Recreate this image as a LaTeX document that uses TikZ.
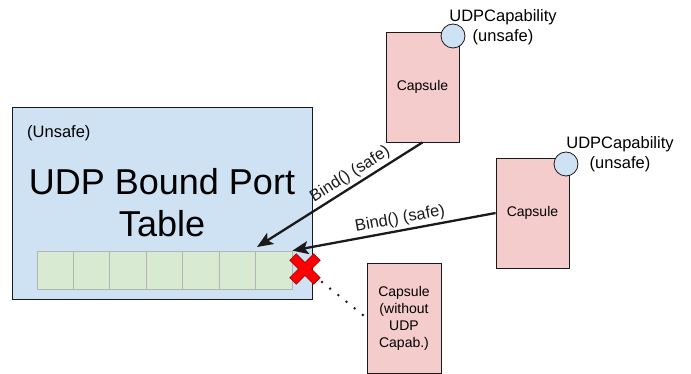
\documentclass[tikz,border=0pt]{standalone}
\usepackage{fontspec}
\setmainfont{Liberation Sans}
\usetikzlibrary{arrows.meta,positioning}
\definecolor{Ink}{HTML}{1A1A1A}
\definecolor{TableBlue}{HTML}{CFE2F3}
\definecolor{SlotGreen}{HTML}{D9EAD3}
\definecolor{SlotEdge}{HTML}{B4B4B4}
\definecolor{CapsulePink}{HTML}{F4CCCC}
\definecolor{NoRed}{HTML}{FF0000}
\definecolor{NoRedEdge}{HTML}{8A1010}

\begin{document}
\begin{tikzpicture}[x=1pt,y=-1pt,>={Stealth[length=16pt,width=13pt,inset=3.5pt]},
  capsule/.style={draw=Ink,fill=CapsulePink,line width=0.8pt,minimum width=73pt,minimum height=110pt,inner sep=0pt,align=center,font=\fontsize{14}{17}\selectfont},
  capab/.style={circle,draw=Ink,fill=TableBlue,line width=0.8pt,minimum size=24pt,inner sep=0pt},
  capabtext/.style={align=center,inner sep=0pt,font=\fontsize{16.5}{19.5}\selectfont},
  slot/.style={draw=SlotEdge,fill=SlotGreen,line width=0.8pt,minimum width=36.43pt,minimum height=38pt,inner sep=0pt},
  bind/.style={->,Ink,line width=2.3pt},
  bindtext/.style={font=\fontsize{16.5}{19.5}\selectfont,inner sep=2.5pt}]
\useasboundingbox (0,0) rectangle (691,374);
% port table
\node[draw=Ink,fill=TableBlue,line width=0.8pt,minimum width=300pt,minimum height=192pt,inner sep=0pt] (table) at (162,203) {};
\node[anchor=west,inner sep=0pt,font=\fontsize{16.5}{19.5}\selectfont] (unsafe) at (27,133) {(Unsafe)};
\node[align=center,inner sep=0pt,font=\fontsize{36}{42}\selectfont] (title) at (162,203) {UDP Bound Port\\Table};
\foreach \i in {0,...,6}
  \node[slot] (slot\i) at ({55.2+36.43*\i},270) {};
% capsules
\node[capsule] (capA) at (422.5,87) {Capsule};
\node[capsule] (capB) at (532.5,213) {Capsule};
\node[capsule,minimum width=74pt] (capC) at (404,318) {Capsule\\(without\\UDP\\Capab.)};
\node[capab] (keyA) at (453,36) {};
\node[capab] (keyB) at (566,164) {};
\node[capabtext] (keyAtext) at (503,27) {UDPCapability\\(unsafe)};
\node[capabtext] (keyBtext) at (620,154) {UDPCapability\\(unsafe)};
% bind calls
\coordinate (tipA) at (257,247);
\draw[bind] (capA.south) -- node[bindtext,sloped,above,pos=0.40] (bindA) {Bind() (safe)} (tipA);
\draw[bind] (capB.west) -- node[bindtext,sloped,above,pos=0.46] (bindB) {Bind() (safe)} (slot6.north east);
% refused
\coordinate (nope) at (305,269);
\coordinate (nopeTail) at (322,282);
\draw[Ink,line width=2.8pt,line cap=round,dash pattern=on 0pt off 10.5pt] (nopeTail) -- (capC.west);
\begin{scope}[shift={(nope)},rotate=45]
\filldraw[fill=NoRed,draw=NoRedEdge,line width=0.6pt] (-17,-4.6) -- (-4.6,-4.6) -- (-4.6,-17) -- (4.6,-17) -- (4.6,-4.6) -- (17,-4.6) -- (17,4.6) -- (4.6,4.6) -- (4.6,17) -- (-4.6,17) -- (-4.6,4.6) -- (-17,4.6) -- cycle;
\end{scope}
\end{tikzpicture}
\end{document}
